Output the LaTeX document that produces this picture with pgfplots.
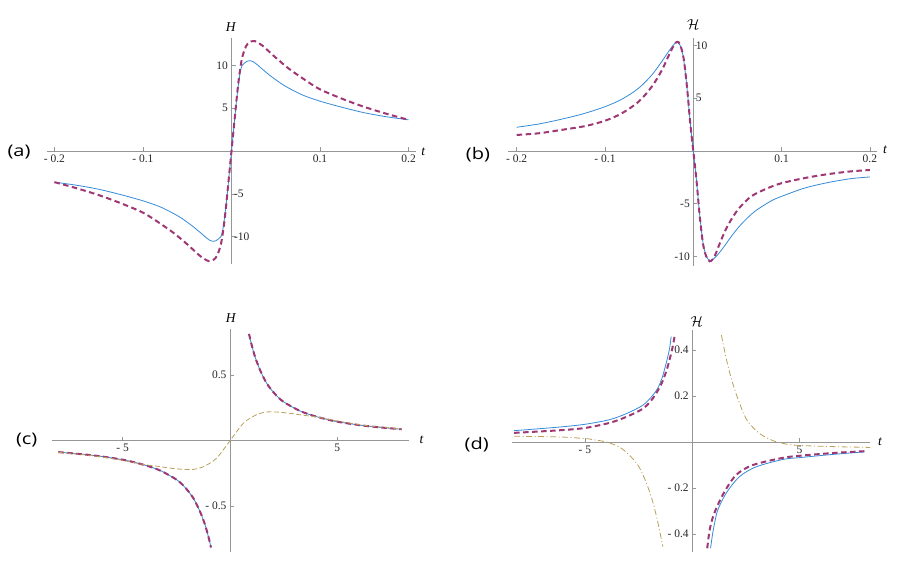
\documentclass[border=0pt]{standalone}
\usepackage{fontspec}
\setmainfont{Liberation Serif}
\newfontfamily\labfont{Open Sans}
\usepackage{pgfplots}
\pgfplotsset{compat=1.18}
\definecolor{mblue}{RGB}{52,138,214}
\definecolor{mmag}{RGB}{158,55,115}
\definecolor{mgold}{RGB}{185,160,90}
\definecolor{axgray}{RGB}{150,150,150}
\pgfplotsset{
  mstyle/.style={
    scale only axis, anchor=origin,
    axis lines=middle, axis line style={-, draw=axgray, line width=0.7pt},
    tick style={draw=axgray, line width=0.6pt}, major tick length=4pt,
    tick align=inside,
    tick label style={font=\fontsize{11.5}{13}\selectfont, text=black!85},
    clip=false,
  },
  cblue/.style={mblue, line width=0.8pt, smooth},
  cmag/.style={mmag, line width=2pt, dash pattern=on 5.5pt off 3.5pt, smooth},
  cgold/.style={mgold, line width=0.8pt, dash pattern=on 5pt off 2.5pt, smooth},
  cgolddd/.style={mgold, line width=0.8pt, dash pattern=on 6pt off 2.5pt on 1pt off 2.5pt, smooth},
}
\newcommand{\axl}[1]{\fontsize{13.5}{15}\selectfont #1}
\newcommand{\pl}[1]{\labfont\fontsize{16}{18}\selectfont #1}
\begin{document}
\begin{tikzpicture}[x=1pt,y=1pt]
\path[use as bounding box] (0,0) rectangle (901,571);
% ---------------- (a)
\begin{axis}[mstyle, at={(231.5pt,420pt)}, width=368.3pt, height=226pt,
  xmin=-0.208, xmax=0.208, ymin=-13.2, ymax=13.2,
  xtick={-0.2,-0.1,0.1,0.2}, xticklabels={-\ 0.2,-\ 0.1,0.1,0.2},
  ytick={5,10}, yticklabels={5,10},
  extra y ticks={-10,-5}, extra y tick labels={-10,-5},
  extra y tick style={yticklabel style={anchor=west, xshift=-1pt}}]
\addplot[cblue] coordinates {
(-0.200,-3.64)(-0.175,-4.0)(-0.150,-4.47)(-0.125,-5.1)(-0.100,-5.82)(-0.080,-6.55)(-0.060,-7.62)(-0.045,-8.7)(-0.035,-9.55)(-0.030,-10.0)(-0.025,-10.4)(-0.021,-10.55)(-0.018,-10.5)(-0.015,-10.3)(-0.012,-10.0)(-0.010,-9.3)(-0.008,-7.9)(-0.006,-6.2)(-0.004,-4.2)(-0.002,-2.1)
(0,0)(0.002,2.1)(0.004,4.2)(0.006,6.2)(0.008,7.9)(0.010,9.3)(0.012,10.0)(0.015,10.3)(0.018,10.5)(0.021,10.55)(0.025,10.4)(0.030,10.0)(0.035,9.55)(0.045,8.7)(0.060,7.62)(0.080,6.55)(0.100,5.82)(0.125,5.1)(0.150,4.47)(0.175,4.0)(0.200,3.64)};
\addplot[cmag] coordinates {
(-0.200,-3.64)(-0.175,-4.35)(-0.150,-5.15)(-0.125,-6.1)(-0.100,-7.2)(-0.083,-8.3)(-0.065,-9.6)(-0.050,-10.9)(-0.040,-11.85)(-0.035,-12.3)(-0.030,-12.65)(-0.026,-12.85)(-0.022,-12.8)(-0.018,-12.5)(-0.015,-11.9)(-0.012,-10.9)(-0.010,-9.7)(-0.008,-8.2)(-0.006,-6.3)(-0.004,-4.2)(-0.002,-2.1)
(0,0)(0.002,2.1)(0.004,4.2)(0.006,6.3)(0.008,8.2)(0.010,9.7)(0.012,10.9)(0.015,11.9)(0.018,12.5)(0.022,12.8)(0.026,12.85)(0.030,12.65)(0.035,12.3)(0.040,11.85)(0.050,10.9)(0.065,9.6)(0.083,8.3)(0.100,7.2)(0.125,6.1)(0.150,5.15)(0.175,4.35)(0.200,3.64)};
\end{axis}
% ---------------- (b)
\begin{axis}[mstyle, at={(693.3pt,420pt)}, width=369pt, height=228pt,
  xmin=-0.2095, xmax=0.2084, ymin=-10.9, ymax=10.71,
  xtick={-0.2,-0.1,0.1,0.2}, xticklabels={-\ 0.2,-\ 0.1,0.1,0.2},
  ytick={-10,-5}, yticklabels={-10,-5},
  extra y ticks={5,10}, extra y tick labels={5,10},
  extra y tick style={yticklabel style={anchor=west, xshift=-1pt}}]
\addplot[cblue] coordinates {
(-0.200,2.25)(-0.175,2.56)(-0.150,3.0)(-0.125,3.52)(-0.100,4.2)(-0.080,4.95)(-0.062,5.95)(-0.047,7.2)(-0.036,8.45)(-0.027,9.55)(-0.022,10.1)(-0.019,10.3)(-0.016,10.15)(-0.0135,9.7)(-0.011,8.7)(-0.0072,6.05)(-0.0034,2.6)
(0,0)(0.0034,-2.6)(0.0072,-6.05)(0.011,-8.7)(0.0147,-9.98)(0.0195,-10.4)(0.026,-9.98)(0.0336,-9.2)(0.043,-8.1)(0.0543,-6.94)(0.0694,-5.74)(0.0882,-4.73)(0.100,-4.3)(0.1258,-3.52)(0.152,-3.0)(0.1786,-2.62)(0.200,-2.46)};
\addplot[cmag] coordinates {
(-0.200,1.52)(-0.175,1.68)(-0.150,1.99)(-0.122,2.37)(-0.100,2.87)(-0.081,3.57)(-0.062,4.67)(-0.047,6.1)(-0.036,7.6)(-0.0264,9.3)(-0.021,10.15)(-0.018,10.35)(-0.015,10.1)(-0.011,8.8)(-0.0072,6.1)(-0.0034,2.6)
(0,0)(0.0034,-2.6)(0.0072,-6.1)(0.011,-8.8)(0.0147,-10.0)(0.0185,-10.45)(0.0215,-10.3)(0.0242,-9.98)(0.0317,-8.4)(0.0392,-7.04)(0.0505,-5.56)(0.0656,-4.3)(0.0844,-3.52)(0.100,-3.05)(0.1258,-2.57)(0.152,-2.2)(0.1786,-1.93)(0.200,-1.8)};
\end{axis}
% ---------------- (c)
\begin{axis}[mstyle, at={(230pt,130.3pt)}, width=357.3pt, height=222.4pt,
  xmin=-8.31, xmax=8.34, ymin=-0.847, ymax=0.850,
  xtick={-5,5}, xticklabels={-\ 5,5},
  ytick={-0.5,0.5}, yticklabels={-\ 0.5,0.5}]
\addplot[cblue] coordinates {(0.885,0.815)(0.95,0.77)(1.01,0.73)(1.165,0.641)(1.398,0.54)(1.71,0.438)(2.097,0.356)(2.485,0.298)(3.26,0.227)(4.04,0.183)(5.0,0.145)(6.37,0.112)(8.0,0.087)};
\addplot[cblue] coordinates {(-8.0,-0.087)(-6.37,-0.112)(-5.0,-0.145)(-4.04,-0.183)(-3.26,-0.227)(-2.485,-0.298)(-2.097,-0.356)(-1.71,-0.438)(-1.398,-0.54)(-1.165,-0.641)(-1.01,-0.73)(-0.95,-0.77)(-0.885,-0.815)};
\addplot[cmag] coordinates {(0.885,0.815)(0.95,0.77)(1.01,0.73)(1.165,0.641)(1.398,0.54)(1.71,0.438)(2.097,0.356)(2.485,0.298)(3.26,0.227)(4.04,0.183)(5.0,0.145)(6.37,0.112)(8.0,0.087)};
\addplot[cmag] coordinates {(-8.0,-0.087)(-6.37,-0.112)(-5.0,-0.145)(-4.04,-0.183)(-3.26,-0.227)(-2.485,-0.298)(-2.097,-0.356)(-1.71,-0.438)(-1.398,-0.54)(-1.165,-0.641)(-1.01,-0.73)(-0.95,-0.77)(-0.885,-0.815)};
\addplot[cgold] coordinates {(-8.0,-0.089)(-6.37,-0.115)(-5,-0.150)(-4.04,-0.181)(-3.42,-0.194)(-2.8,-0.209)(-2.17,-0.219)(-1.71,-0.219)(-1.32,-0.204)(-0.93,-0.171)(-0.62,-0.133)(-0.31,-0.069)(0,0)(0.31,0.069)(0.62,0.133)(0.93,0.171)(1.32,0.204)(1.71,0.219)(2.17,0.219)(2.8,0.209)(3.42,0.194)(4.04,0.181)(5,0.150)(6.37,0.115)(8.0,0.089)};
\end{axis}
% ---------------- (d)
\begin{axis}[mstyle, at={(692.2pt,129pt)}, width=358pt, height=221.7pt,
  xmin=-8.38, xmax=8.31, ymin=-0.477, ymax=0.487,
  xtick={-5,5}, xticklabels={-\ 5,5},
  ytick={-0.4,-0.2,0.2,0.4}, yticklabels={-\ 0.4,-\ 0.2,0.2,0.4}]
\addplot[cblue] coordinates {(-8.3,0.050)(-8.05,0.051)(-6.19,0.065)(-5,0.077)(-3.86,0.097)(-3.08,0.123)(-2.30,0.16)(-1.84,0.203)(-1.6,0.235)(-1.4,0.28)(-1.25,0.33)(-1.14,0.37)(-1.05,0.41)(-0.98,0.458)};
\addplot[cblue] coordinates {(0.855,-0.462)(0.95,-0.40)(1.05,-0.35)(1.19,-0.296)(1.58,-0.223)(2.2,-0.151)(2.98,-0.108)(4.22,-0.076)(5,-0.068)(6.55,-0.054)(8.03,-0.043)};
\addplot[cmag] coordinates {(-8.3,0.040)(-8.05,0.041)(-6.19,0.051)(-5,0.061)(-3.86,0.083)(-3.08,0.109)(-2.30,0.145)(-1.84,0.189)(-1.45,0.25)(-1.2,0.31)(-1.06,0.357)(-0.92,0.41)(-0.80,0.47)};
\addplot[cmag] coordinates {(0.70,-0.462)(0.80,-0.39)(0.92,-0.34)(1.12,-0.289)(1.5,-0.217)(2.05,-0.143)(2.83,-0.100)(4.22,-0.069)(5,-0.060)(6.55,-0.048)(8.03,-0.040)};
\addplot[cgolddd] coordinates {(-8.3,0.025)(-6.19,0.022)(-5,0.015)(-4.6,0.01)(-4.0,0)(-3.39,-0.022)(-2.92,-0.058)(-2.5,-0.105)(-2.15,-0.175)(-1.84,-0.26)(-1.6,-0.35)(-1.37,-0.455)};
\addplot[cgolddd] coordinates {(1.36,0.465)(1.6,0.357)(1.84,0.27)(2.15,0.183)(2.55,0.095)(3.14,0.037)(3.76,0.006)(4.38,-0.009)(5,-0.015)(6.55,-0.02)(8.0,-0.023)(8.3,-0.024)};
\end{axis}
% ---------------- labels
\node at (231,544.3) {\axl{\textit{H}}};
\node at (423.3,419.3) {\axl{\textit{t}}};
\node at (693.3,546) {\axl{$\mathcal{H}$}};
\node at (885,421) {\axl{\textit{t}}};
\node at (231,252.7) {\axl{\textit{H}}};
\node at (421.7,131) {\axl{\textit{t}}};
\node at (696.7,249.3) {\axl{$\mathcal{H}$}};
\node at (880,129.3) {\axl{\textit{t}}};
\node[xscale=1.25, transform shape] at (19,419.3) {\pl{(a)}};
\node[xscale=1.25, transform shape] at (478,416) {\pl{(b)}};
\node[xscale=1.25, transform shape] at (26.7,131) {\pl{(c)}};
\node[xscale=1.25, transform shape] at (476.7,126) {\pl{(d)}};
\end{tikzpicture}
\end{document}
